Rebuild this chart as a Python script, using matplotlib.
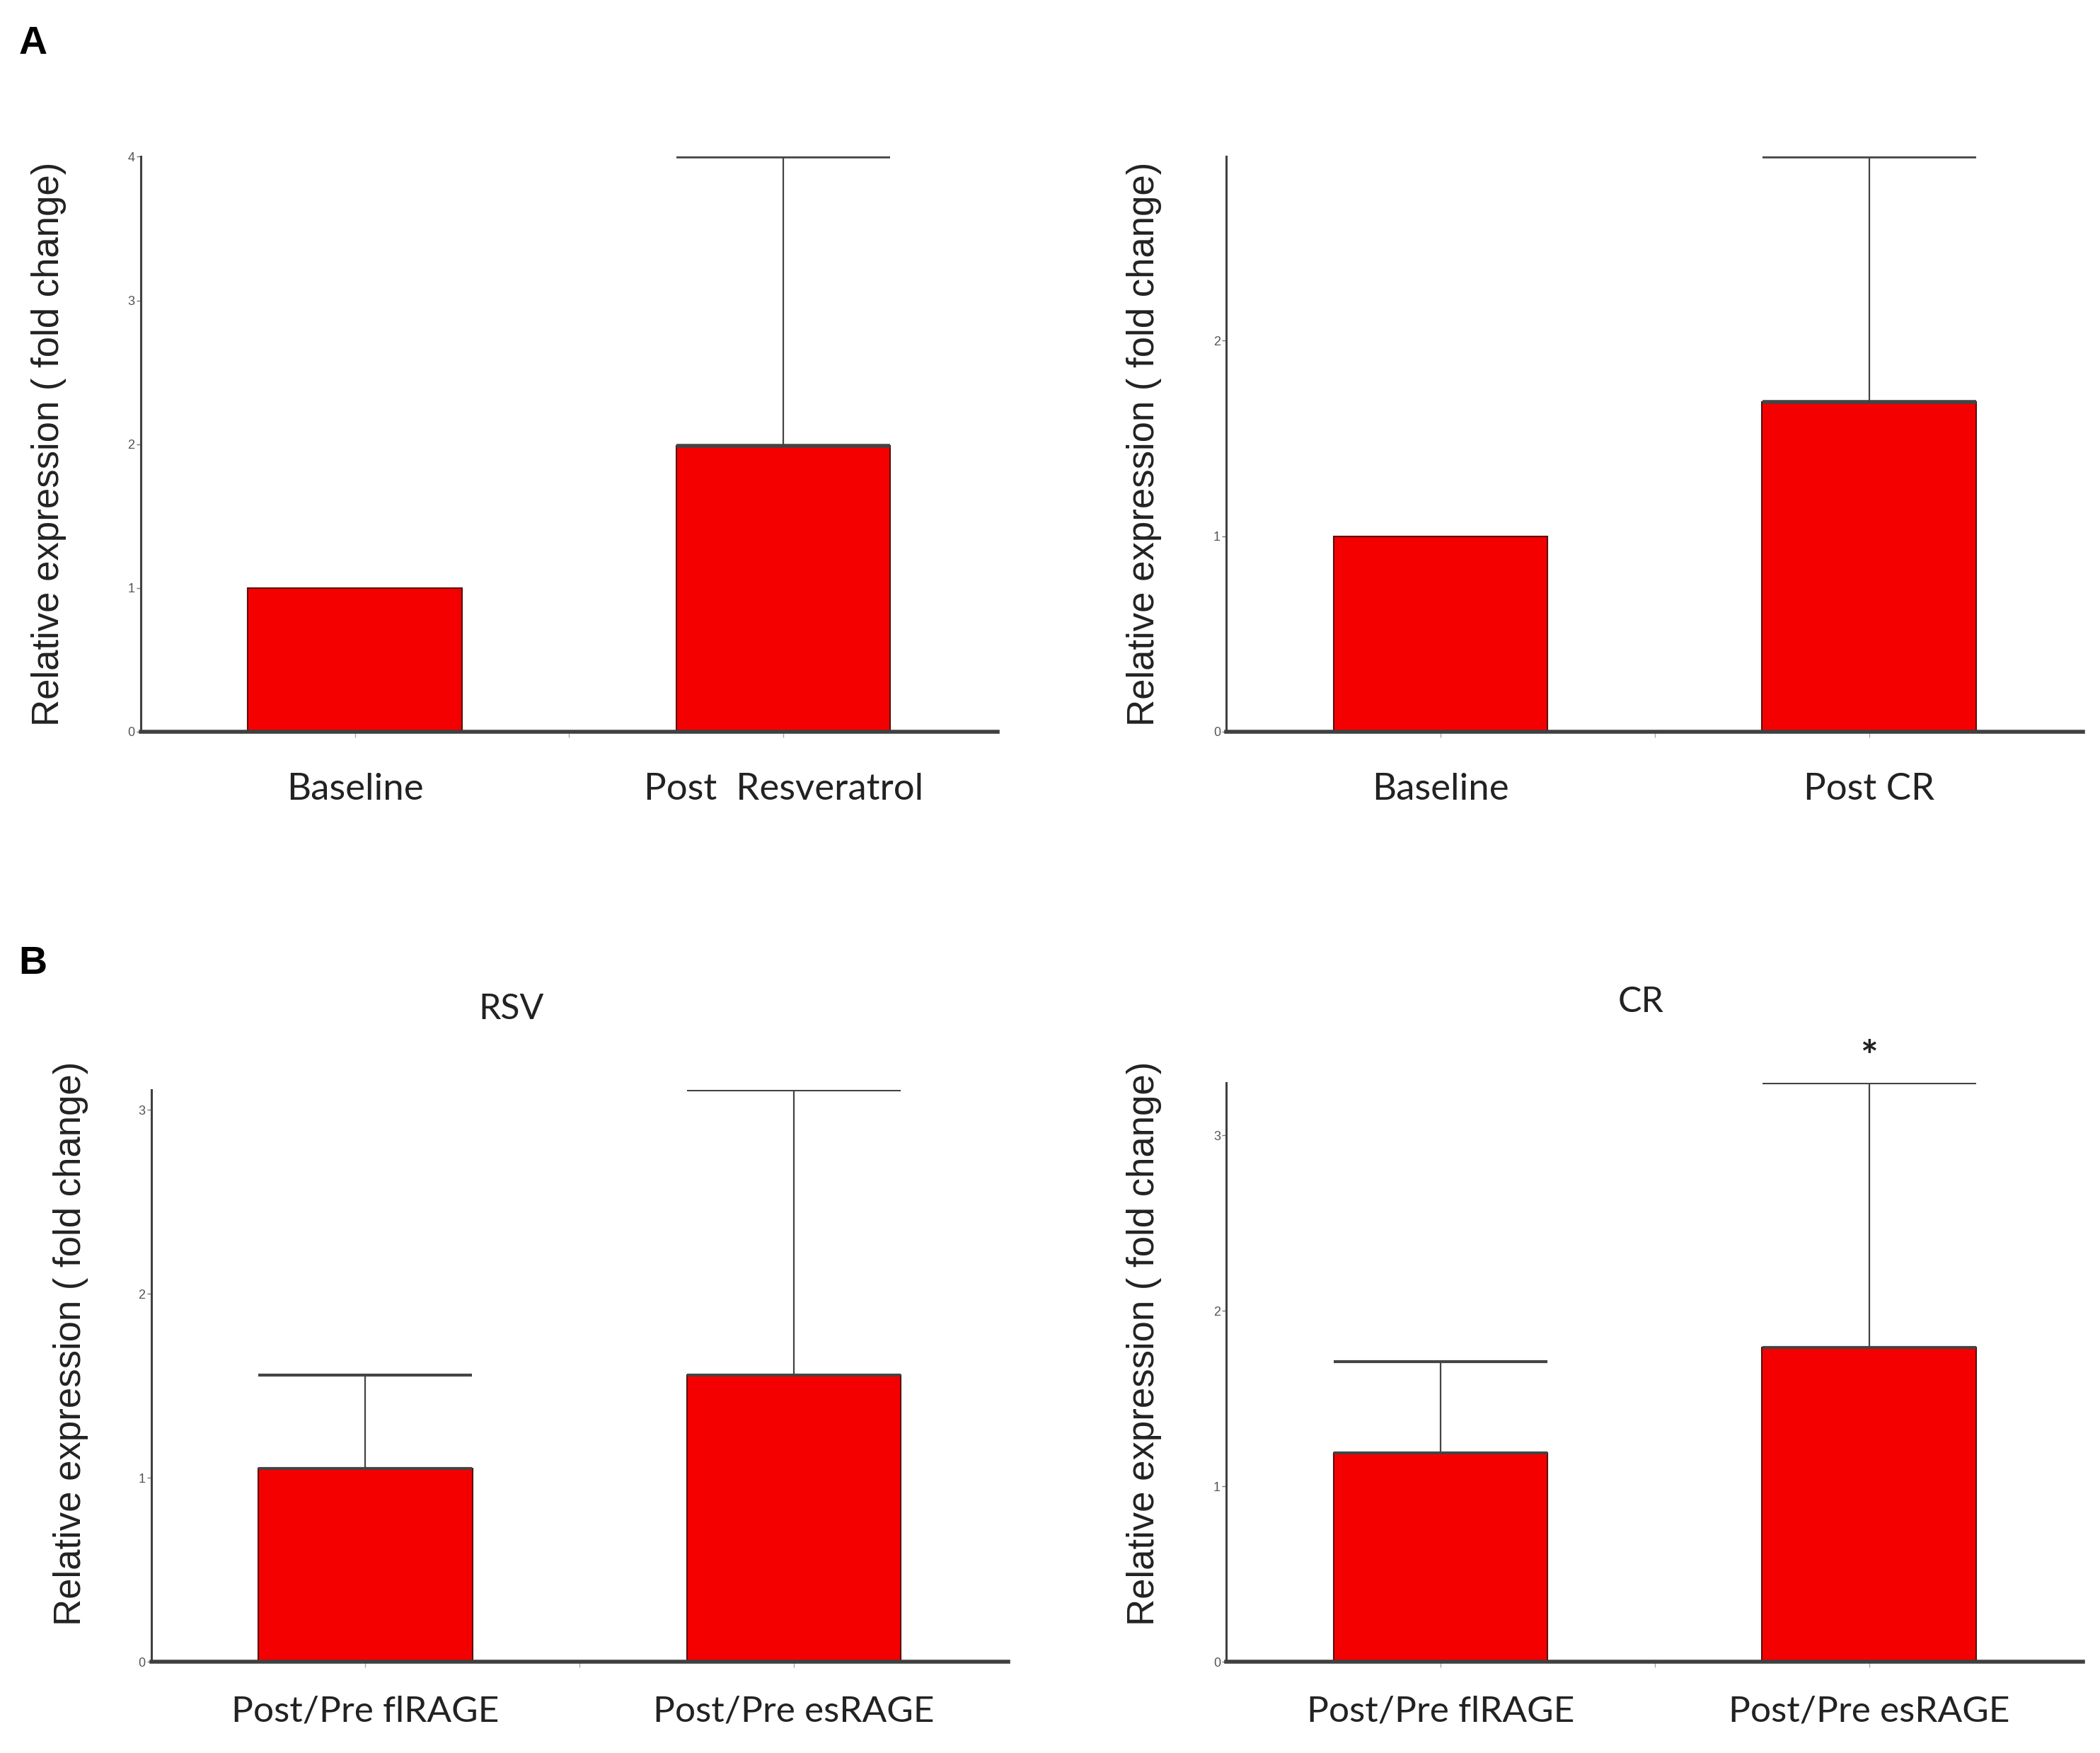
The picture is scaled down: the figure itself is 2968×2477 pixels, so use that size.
import matplotlib
matplotlib.use("Agg")
import matplotlib.pyplot as plt

# ---- data ----
cats_a1 = ["Baseline", "Post  Resveratrol"]
vals_a1 = [1.0, 1.99]
errtop_a1 = [None, 4.0]

cats_a2 = ["Baseline", "Post CR"]
vals_a2 = [1.0, 1.685]
errtop_a2 = [None, 2.94]

cats_b = ["Post/Pre flRAGE", "Post/Pre esRAGE"]
vals_b1 = [1.05, 1.56]
errtop_b1 = [1.56, 3.11]
vals_b2 = [1.19, 1.79]
errtop_b2 = [1.71, 3.30]
sig_b2 = ["", "*"]

yticks_a1 = [0, 1, 2, 3, 4]
yticks_a2 = [0, 1, 2]
yticks_b1 = [0, 1, 2, 3]
yticks_b2 = [0, 1, 2, 3]

ylim_a1 = 4.0
ylim_a2 = 2.94
ylim_b1 = 3.11
ylim_b2 = 3.30

W, H = 2968, 2477
fig = plt.figure(figsize=(W / 100, H / 100), dpi=100)

RED = "#f50000"
SPINE = "#404040"
YLAB = "Relative expression ( fold change)"
LABFONT = "Lato"


def panel(rect, cats, vals, errtop, yticks, ytop, title=None, title_x=0.5, sig=None,
          ylab_x=-0.09, ylab_y=0.5, xlab_pad=28, xlab_size=38, capcolor="#444444",
          capthick=3):
    ax = fig.add_axes(rect)
    x = list(range(len(cats)))
    ax.bar(x, vals, width=0.5, color=RED, edgecolor="#5a1010", linewidth=1.5, zorder=2)
    for xi, v, t in zip(x, vals, errtop):
        if t is None:
            continue
        eb = ax.errorbar([xi], [v], yerr=[[0], [t - v]], fmt="none", ecolor="#444444",
                         elinewidth=1.6, capsize=109, capthick=capthick, zorder=3)
        for c in eb[1]:
            c.set_color(capcolor)
    if sig:
        for xi, t, s in zip(x, errtop, sig):
            if s:
                ax.annotate(s, xy=(xi, t), xytext=(0, 6), textcoords="offset points",
                            ha="center", va="bottom", fontsize=42, family=LABFONT,
                            fontweight="bold", color="#222222", annotation_clip=False)
    ax.set_xlim(-0.5, 1.5)
    ax.set_ylim(0, ytop)
    ax.set_yticks(yticks)
    ax.set_yticklabels([str(t) for t in yticks], fontsize=13, color="#555555",
                       family="Liberation Sans")
    ax.set_xticks(x)
    ax.set_xticklabels(cats, fontsize=xlab_size, color="#222222", family=LABFONT)
    ax.set_xticks([0.5], minor=True)
    ax.tick_params(axis="x", which="both", length=6, width=1, color="#aaaaaa",
                   pad=xlab_pad)
    ax.tick_params(axis="y", length=4, width=1, color="#777777", pad=2)
    for s in ("top", "right"):
        ax.spines[s].set_visible(False)
    for s in ("left", "bottom"):
        ax.spines[s].set_color(SPINE)
    ax.spines["left"].set_linewidth(2.2)
    ax.spines["bottom"].set_linewidth(4)
    ax.set_ylabel(YLAB, fontsize=38, family="Liberation Sans", color="#222222")
    ax.yaxis.set_label_coords(ylab_x, ylab_y)
    if title:
        ax.set_title(title, fontsize=36, family=LABFONT, color="#222222", pad=72,
                     x=title_x)
    return ax


panel([0.067, 0.5826, 0.408, 0.328], cats_a1, vals_a1, errtop_a1, yticks_a1, ylim_a1,
      ylab_x=-0.087, xlab_pad=36, xlab_size=38, capcolor="#888888", capthick=4)
panel([0.584, 0.5826, 0.408, 0.328], cats_a2, vals_a2, errtop_a2, yticks_a2, ylim_a2,
      ylab_x=-0.075, xlab_pad=36, xlab_size=38, capcolor="#888888", capthick=4)
panel([0.072, 0.052, 0.408, 0.3264], cats_b, vals_b1, errtop_b1, yticks_b1, ylim_b1,
      title="RSV", title_x=0.42, ylab_x=-0.073, ylab_y=0.556, xlab_size=37)
panel([0.584, 0.052, 0.408, 0.3303], cats_b, vals_b2, errtop_b2, yticks_b2, ylim_b2,
      title="CR", title_x=0.484, sig=sig_b2, ylab_x=-0.075, ylab_y=0.55, xlab_size=37)

fig.text(0.009, 0.975, "A", fontsize=40, fontweight="bold", family="Liberation Sans",
         va="center", ha="left")
fig.text(0.009, 0.45, "B", fontsize=40, fontweight="bold", family="Liberation Sans",
         va="center", ha="left")

fig.savefig("out.png", dpi=100, facecolor="white")
